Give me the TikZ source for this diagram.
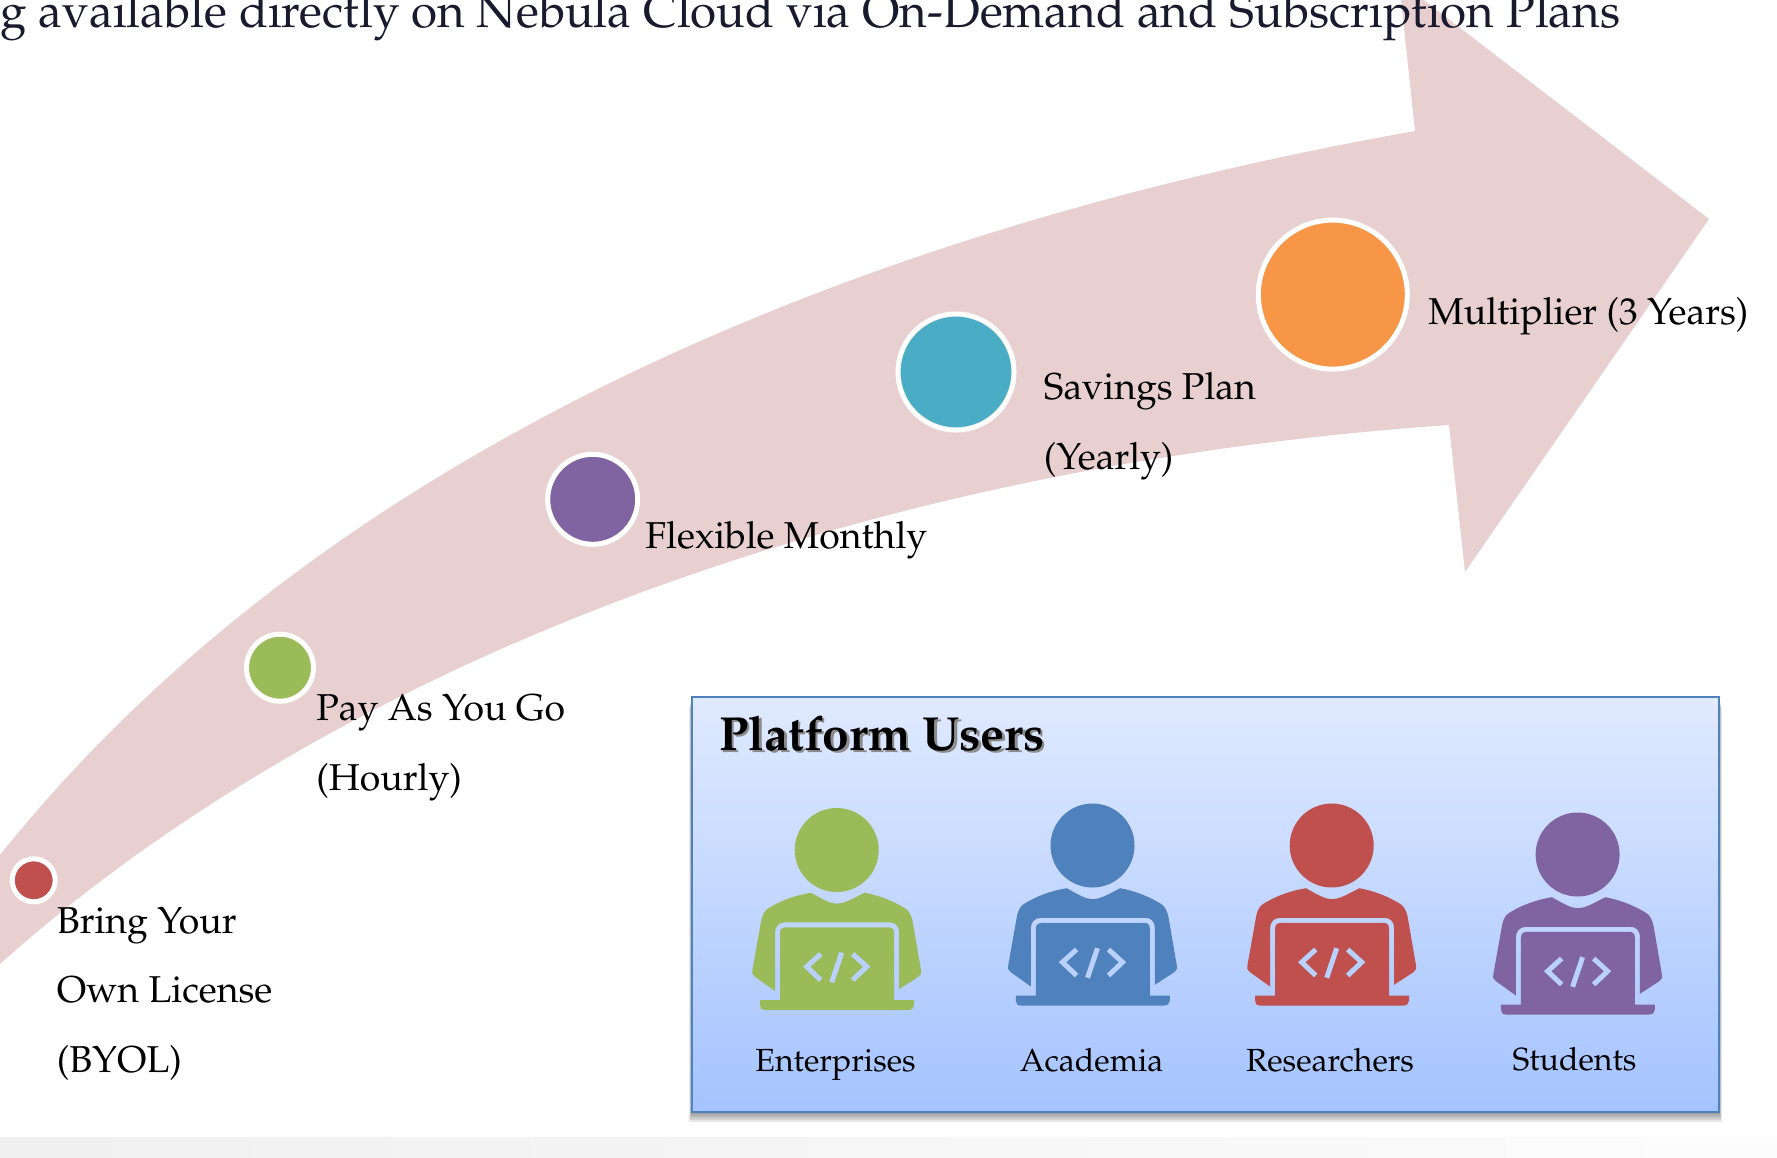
\documentclass[tikz,border=0pt]{standalone}
\usepackage[T1]{fontenc}
\usepackage{mathpazo}
\usepackage{tikz}

\definecolor{arrowpink}{HTML}{E8D0D1}
\definecolor{titleink}{HTML}{1A1A2E}
\definecolor{iconred}{HTML}{C0504D}
\definecolor{icongreen}{HTML}{9BBB59}
\definecolor{iconblue}{HTML}{4F81BD}
\definecolor{iconpurple}{HTML}{8064A2}
\definecolor{iconteal}{HTML}{4BACC6}
\definecolor{iconorange}{HTML}{F79646}
\definecolor{gaptint}{HTML}{B9D1FF}
\definecolor{paneltop}{HTML}{E0EAFF}
\definecolor{panelbottom}{HTML}{A4C3FF}

\tikzset{
    planlabel/.style={anchor=base west, align=left, inner sep=0pt,
        font=\fontsize{18.7}{34.75}\selectfont},
    userlabel/.style={anchor=base, inner sep=0pt, font=\fontsize{16}{20}\selectfont},
    plandot/.style={circle, draw=white, line width=2.5pt, inner sep=0pt, minimum size=#1},
    pics/coder/.style={code={
        \fill[#1] (0,0) circle[radius=42];
        \fill[#1] (-25.7,42.7) .. controls (0,57.3) .. (27.7,42.7)
            .. controls (45,46) and (58,52) .. (68.3,58.3)
            .. controls (72,60) and (75,66) .. (76,71.7) -- (84.3,120)
            .. controls (85,123) .. (81.7,126.7) -- (62.3,139.3) -- (62.3,83)
            .. controls (62.3,75) and (58,72.3) .. (52.3,72.3) -- (-51.7,72.3)
            .. controls (-58,72.3) and (-61.7,77) .. (-61.7,83) -- (-61.7,141)
            -- (-81.7,126.7) .. controls (-85,123) .. (-84.3,120) -- (-75.7,71.7)
            .. controls (-75,66) and (-72,60) .. (-68.3,58.3)
            .. controls (-58,52) and (-45,46) .. (-25.7,42.7) -- cycle;
        \fill[#1] (-56.7,150) -- (-56.7,83) .. controls (-56.7,79) and (-54,77.3) .. (-50,77.3)
            -- (51.7,77.3) .. controls (55,77.3) and (57.3,79) .. (57.3,83) -- (57.3,150)
            -- (77.3,150) -- (77.3,155) .. controls (77.3,158) and (75,160) .. (71.7,160)
            -- (-71.7,160) .. controls (-75,160) and (-76.7,158) .. (-76.7,155)
            -- (-76.7,150) -- cycle;
        \draw[gaptint, line width=2.5pt] (-16,104) -- (-30,116.7) -- (-16,130);
        \draw[gaptint, line width=2.5pt] (16,104) -- (30,116.7) -- (16,130);
        \draw[gaptint, line width=2.5pt] (5,102.7) -- (-5,132.3);
    }}
}

\begin{document}
\begin{tikzpicture}[x=0.5pt, y=-0.5pt]
    \useasboundingbox (0,0) rectangle (1777,1157);
    \clip (0,0) rectangle (1777,1157);

    % bottom band and big arrow
    \fill[left color=black!6, right color=black!1] (0,1137) rectangle (1777,1157);
    \fill[arrowpink] (0,855) .. controls (300,480) and (800,240) .. (1415,131)
        -- (1399,-19) -- (1709,219) -- (1465,572) -- (1449,425)
        .. controls (800,470) and (300,695) .. (0,964) -- cycle;

    \node[anchor=base west, inner sep=0pt, text=titleink, font=\fontsize{23.75}{28}\selectfont]
        (headline) at (0,27) {g available directly on Nebula Cloud via On-Demand and Subscription Plans};

    % plan markers
    \node[plandot=21.5pt, fill=iconred] (byol) at (33.7,880.3) {};
    \node[plandot=33.5pt, fill=icongreen] (payg) at (280,667.7) {};
    \node[plandot=45pt, fill=iconpurple] (monthly) at (592.7,499.3) {};
    \node[plandot=58pt, fill=iconteal] (yearly) at (956,372) {};
    \node[plandot=74.5pt, fill=iconorange] (multi) at (1332.8,294.6) {};

    \node[planlabel] (byoltext) at (56.5,1072) {Bring Your\\Own License\\(BYOL)};
    \node[planlabel] (paygtext) at (316,790) {Pay As You Go\\(Hourly)};
    \node[planlabel] (monthlytext) at (645,548) {Flexible Monthly};
    \node[planlabel] (yearlytext) at (1043.5,469) {Savings Plan\\(Yearly)};
    \node[planlabel] (multitext) at (1428,324) {Multiplier (3 Years)};

    % users panel
    \foreach \s in {1,...,5}
        \fill[black, opacity=0.09] (692-0.6*\s,697+2*\s) rectangle (1719+0.6*\s,1112+2*\s);
    \draw[draw=iconblue, line width=1.2pt, top color=paneltop, bottom color=panelbottom]
        (692,697) rectangle (1719,1112);

    \node[anchor=base west, inner sep=0pt, text=black!45, font=\fontsize{23.9}{28}\selectfont\bfseries]
        (usersshade) at (721.5,752.5) {Platform Users};
    \node[anchor=base west, inner sep=0pt, font=\fontsize{23.9}{28}\selectfont\bfseries]
        (userstitle) at (719,750.5) {Platform Users};

    \pic (enterprise) at (836.7,850) {coder=icongreen};
    \pic (academic) at (1092.5,845.5) {coder=iconblue};
    \pic (research) at (1331.7,845.5) {coder=iconred};
    \pic (student) at (1577.6,854.5) {coder=iconpurple};

    \node[userlabel] (enterprisetext) at (835.6,1071) {Enterprises};
    \node[userlabel] (academictext) at (1091.6,1071) {Academia};
    \node[userlabel] (researchtext) at (1330,1071) {Researchers};
    \node[userlabel] (studenttext) at (1574.5,1070) {Students};
\end{tikzpicture}
\end{document}
